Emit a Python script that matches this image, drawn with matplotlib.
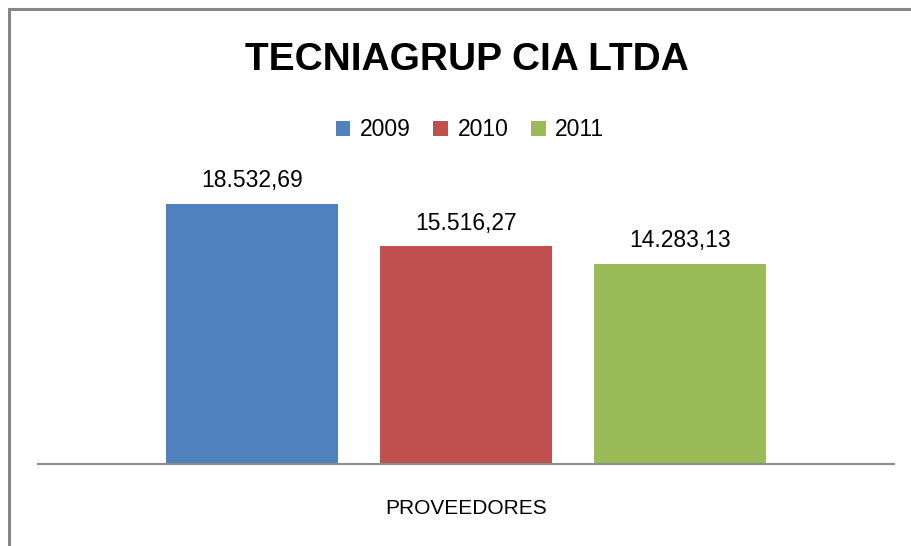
import matplotlib.pyplot as plt
from matplotlib.patches import Rectangle

series = ['2009', '2010', '2011']
values = [18532.69, 15516.27, 14283.13]
value_labels = ['18.532,69', '15.516,27', '14.283,13']
category = 'PROVEEDORES'
colors = ['#4f81bd', '#c0504d', '#9bbb59']

plt.rcParams['font.family'] = ['Liberation Sans', 'DejaVu Sans']

fig = plt.figure(figsize=(9.11, 5.46), dpi=100)
W, H = 911, 546

# outer chart border (only top and left show in the crop)
fig.patches.append(Rectangle((8.5 / W, -0.1), 1.2, 1.1 - 8.5 / H, transform=fig.transFigure,
                             fill=False, edgecolor='#868686', linewidth=2.2))

ax_left, ax_right, ax_bottom, ax_top = 38, 894, 464, 160
ax = fig.add_axes([ax_left / W, (H - ax_bottom) / H, (ax_right - ax_left) / W, (ax_bottom - ax_top) / H])
ymax = values[0] * (ax_bottom - ax_top) / (ax_bottom - 204)
ax.set_xlim(-0.5, 0.5)
ax.set_ylim(0, ymax)

offsets = [-0.25, 0, 0.25]
for s, v, lab, c, off in zip(series, values, value_labels, colors, offsets):
    ax.bar(off, v, width=0.2, color=c, label=s, zorder=2)
    ax.text(off, v + ymax * 0.038, lab, ha='center', va='bottom', fontsize=16.5)

for side in ['top', 'right', 'left']:
    ax.spines[side].set_visible(False)
ax.spines['bottom'].set_color('#8c8c8c')
ax.spines['bottom'].set_linewidth(1.5)
ax.set_yticks([])
ax.set_xticks([])
ax.patch.set_alpha(0)

fig.text(466 / W, 1 - 509 / H, category, ha='center', va='center', fontsize=15)
fig.text(467 / W, 1 - 60 / H, 'TECNIAGRUP CIA LTDA', ha='center', va='center',
         fontsize=28, fontweight='bold')

fig.legend(loc='center', bbox_to_anchor=(470 / W, 1 - 130 / H), ncol=3, frameon=False,
           fontsize=16.5, handlelength=0.65, handleheight=0.65, handletextpad=0.4, columnspacing=1.0)

fig.savefig('out.png', dpi=100)
